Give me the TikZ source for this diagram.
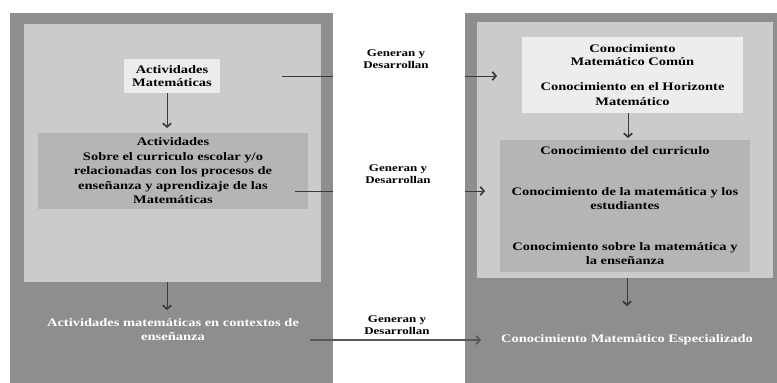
\documentclass[tikz,border=0pt]{standalone}
\usepackage{fontspec}
\setmainfont{Liberation Serif}[FakeStretch=1.26]
\usetikzlibrary{arrows.meta}
\definecolor{outerg}{HTML}{8E8E8E}
\definecolor{innerg}{HTML}{CBCBCB}
\definecolor{paleg}{HTML}{EDEDED}
\definecolor{midg}{HTML}{B5B5B5}
\definecolor{lineg}{HTML}{3A3A3A}
\tikzset{
  panel/.style={draw=none, inner sep=0pt, outer sep=0pt, align=center, text=black,
    font=\bfseries\fontsize{11.5}{14}\selectfont},
  whitetxt/.style={inner sep=0pt, align=center, text=white,
    font=\bfseries\fontsize{11.5}{14}\selectfont},
  lab/.style={inner sep=0pt, align=center, text=black,
    font=\bfseries\fontsize{10.3}{12}\selectfont},
  tipbarb/.style={-{Straight Barb[length=3.6pt,width=8.5pt,line width=1.7pt]}},
  conn/.style={draw=lineg, line width=0.8pt},
  connarr/.style={conn, tipbarb},
  bigconn/.style={draw=lineg!85, line width=1.4pt, tipbarb}
}
\begin{document}
\begin{tikzpicture}[x=1pt,y=-1pt]
\useasboundingbox (0,0) rectangle (777,383);
\fill[white] (0,0) rectangle (777,383);

% left column
\node[panel, fill=outerg, minimum width=323pt, minimum height=370pt] (lout) at (171.5,198) {};
\node[panel, fill=innerg, minimum width=297pt, minimum height=258pt] (lin) at (172.5,153) {};
\node[panel, fill=paleg, minimum width=96pt, minimum height=34pt,
      font=\bfseries\fontsize{11.5}{13}\selectfont] (am) at (172,76) {Actividades\\Matemáticas};
\node[panel, fill=midg, minimum width=270pt, minimum height=76pt,
      font=\bfseries\fontsize{11.5}{14.5}\selectfont] (lact) at (173,171)
  {Actividades\\Sobre el curriculo escolar y/o\\relacionadas con los procesos de\\enseñanza y aprendizaje de las\\Matemáticas};
\node[whitetxt] (actx) at (173,330) {Actividades matemáticas en contextos de\\enseñanza};

% right column
\node[panel, fill=outerg, minimum width=312pt, minimum height=370pt] (rout) at (621,198) {};
\node[panel, fill=innerg, minimum width=296pt, minimum height=256pt] (rin) at (625,150) {};
\node[panel, fill=paleg, minimum width=221pt, minimum height=76pt] (rtop) at (632.5,75)
  {Conocimiento\\[-1pt]Matemático Común\\[11pt]Conocimiento en el Horizonte\\[1pt]Matemático};
\node[panel, fill=midg, minimum width=250pt, minimum height=132pt] (rmid) at (625,206)
  {Conocimiento del curriculo\\[27pt]Conocimiento de la matemática y los\\estudiantes\\[27pt]Conocimiento sobre la matemática y\\la enseñanza};
\node[whitetxt] (cme) at (627,340) {Conocimiento Matemático Especializado};

% labels
\node[lab] (lab1) at (396,59) {Generan y\\Desarrollan};
\node[lab] (lab2) at (398,174) {Generan y\\Desarrollan};
\node[lab] (lab3) at (397,325) {Generan y\\Desarrollan};

% vertical arrows
\draw[conn, tipbarb] ([xshift=-5pt]am.south) -- ++(0,35);
\draw[conn, tipbarb] ([xshift=-5.5pt]lin.south) -- ++(0,28);
\draw[conn, tipbarb] ([xshift=-4.5pt]rtop.south) -- ++(0,25);
\draw[conn, tipbarb] ([xshift=2pt]rin.south) -- ++(0,28);

% horizontal connectors
\coordinate (c1s) at (282,76);
\coordinate (c1e) at (497,76);
\draw[conn] (c1s) -- (c1s -| lout.east);
\draw[connarr] (c1e -| rout.west) -- (c1e);

\coordinate (c2s) at (295,191);
\coordinate (c2e) at (485,191);
\draw[conn] (c2s) -- (c2s -| lout.east);
\draw[connarr] (c2e -| rout.west) -- (c2e);

\coordinate (c3s) at (310,340);
\coordinate (c3e) at (481,340);
\draw[bigconn] (c3s) -- (c3e);
\end{tikzpicture}
\end{document}
